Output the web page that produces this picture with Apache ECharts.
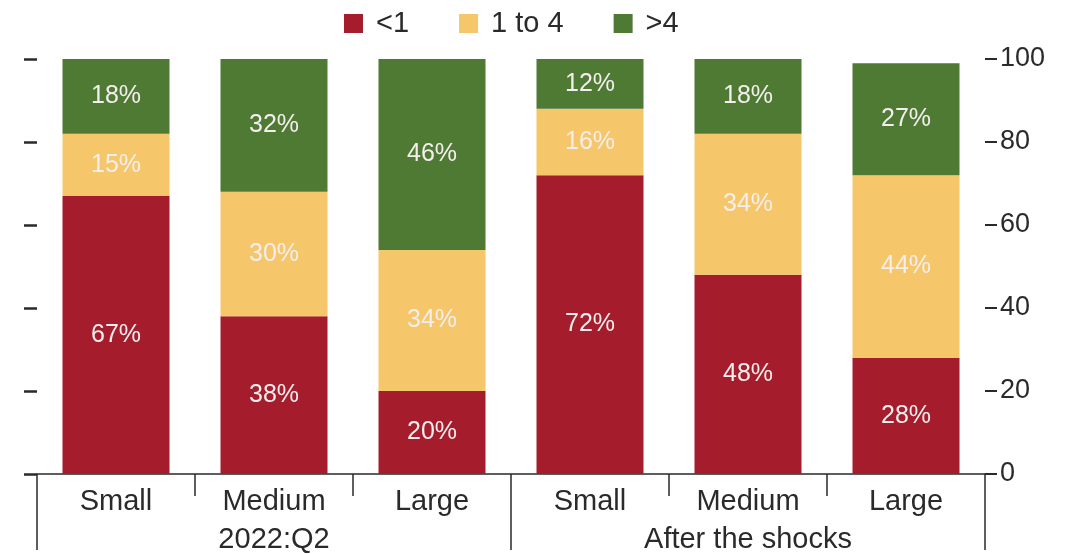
<!DOCTYPE html>
<html lang="en">
<head>
    <meta charset="UTF-8">
    <title>Stacked shares</title>
    <script src="https://cdn.jsdelivr.net/npm/echarts@6/dist/echarts.min.js"></script>
    <style>
        body { margin: 0; background: #fff; }
        #main { width: 1081px; height: 554px; }
    </style>
</head>
<body>
    <div id="main"></div>
</body>
<script>
    // categories and groups
    let sizes = ['Small', 'Medium', 'Large', 'Small', 'Medium', 'Large'];
    let groups = ['2022:Q2', 'After the shocks'];
    // shares in percent
    let below1 = [67, 38, 20, 72, 48, 28];
    let oneToFour = [15, 30, 34, 16, 34, 44];
    let above4 = [18, 32, 46, 12, 18, 27];

    let font = 'Liberation Sans, Arial, sans-serif';
    let ink = '#2a2a2a';
    let chart = echarts.init(document.getElementById('main'));

    function bar(name, data, color) {
        return {
            name: name,
            type: 'bar',
            stack: 'all',
            data: data,
            barWidth: 107,
            itemStyle: { color: color },
            label: {
                show: true,
                position: 'inside',
                color: '#f4eeee',
                fontFamily: font,
                fontSize: 25,
                formatter: '{c}%'
            }
        };
    }

    let option = {
        animation: false,
        legend: {
            top: 4,
            left: 339,
            itemWidth: 19,
            itemHeight: 19,
            itemGap: 50,
            icon: 'rect',
            textStyle: { fontFamily: font, fontSize: 29, color: ink, padding: [0, 0, 0, 8] },
            data: ['<1', '1 to 4', '>4']
        },
        grid: { left: 37, right: 96, top: 59, bottom: 80 },
        xAxis: [
            {
                type: 'category',
                data: sizes,
                position: 'bottom',
                axisLine: { lineStyle: { color: ink, width: 1.5 } },
                axisTick: { show: true, length: 22, lineStyle: { color: ink, width: 1.5 } },
                axisLabel: { fontFamily: font, fontSize: 29, color: ink, margin: 13 }
            },
            {
                type: 'category',
                data: groups,
                position: 'bottom',
                axisLine: { show: false },
                axisTick: { show: true, length: 76, lineStyle: { color: ink, width: 1.5 } },
                axisLabel: { fontFamily: font, fontSize: 29, color: ink, margin: 51 }
            }
        ],
        yAxis: [
            {
                type: 'value',
                min: 0, max: 100, interval: 20,
                position: 'left',
                axisLine: { show: false },
                axisTick: { show: true, length: 13, lineStyle: { color: ink, width: 2.5 } },
                axisLabel: { show: false },
                splitLine: { show: false }
            },
            {
                type: 'value',
                min: 0, max: 100, interval: 20,
                position: 'right',
                axisLine: { show: false },
                axisTick: { show: true, length: 12, lineStyle: { color: ink, width: 2 } },
                axisLabel: { fontFamily: font, fontSize: 27, color: ink, margin: 15 },
                splitLine: { show: false }
            }
        ],
        series: [
            bar('<1', below1, '#a51d2d'),
            bar('1 to 4', oneToFour, '#f5c66a'),
            bar('>4', above4, '#4e7a34')
        ]
    };
    chart.setOption(option);
</script>
</html>
